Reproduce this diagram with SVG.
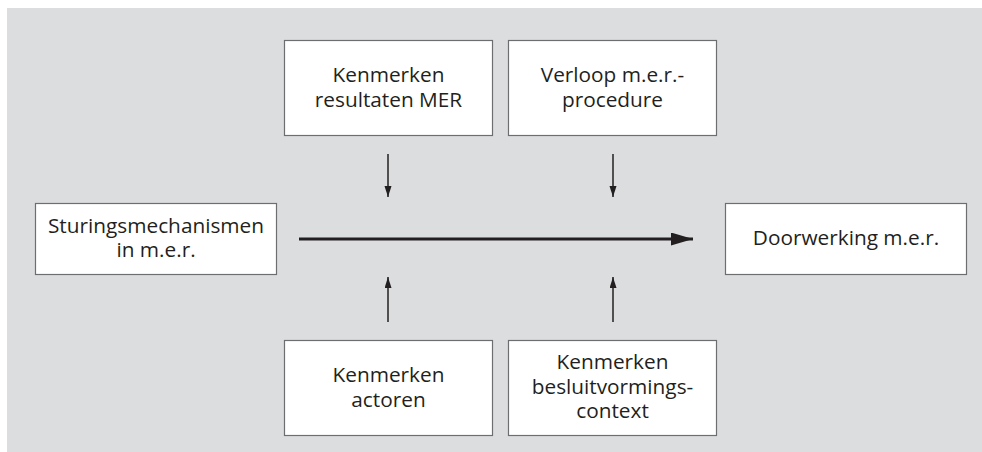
<svg xmlns="http://www.w3.org/2000/svg" width="982" height="452" viewBox="0 0 982 452">
<style>
.box{fill:#ffffff;stroke:#6d6e70;stroke-width:1.2}
.t{font-family:"Open Sans","Noto Sans",sans-serif;font-size:20.8px;fill:#231f20;text-anchor:middle}
.thin{stroke:#231f20;stroke-width:1.5;fill:none}
.thick{stroke:#231f20;stroke-width:3;fill:none}
</style>
<defs>
<marker id="ah" markerUnits="userSpaceOnUse" markerWidth="12" markerHeight="8" refX="11" refY="3.5" orient="auto">
<path d="M0,0 L11,3.5 L0,7 Z" fill="#231f20"/>
</marker>
<marker id="ahb" markerUnits="userSpaceOnUse" markerWidth="23" markerHeight="14" refX="22" refY="6.5" orient="auto">
<path d="M0,0 L22,6.5 L0,13 Z" fill="#231f20"/>
</marker>
</defs>
<rect x="7" y="8" width="975" height="444" fill="#dcdddf"/>
<g id="connectors">
<line class="thin" x1="388" y1="154" x2="388" y2="197" marker-end="url(#ah)"/>
<line class="thin" x1="613" y1="154" x2="613" y2="197" marker-end="url(#ah)"/>
<line class="thin" x1="388" y1="322" x2="388" y2="277" marker-end="url(#ah)"/>
<line class="thin" x1="613" y1="322" x2="613" y2="277" marker-end="url(#ah)"/>
<line class="thick" x1="299" y1="239" x2="693" y2="239" marker-end="url(#ahb)"/>
</g>
<g id="node-resultaten">
<rect class="box" x="284.5" y="40.5" width="208" height="95"/>
<text class="t" x="388.5" y="82">Kenmerken</text>
<text class="t" x="388.5" y="107">resultaten MER</text>
</g>
<g id="node-verloop">
<rect class="box" x="508.5" y="40.5" width="208" height="95"/>
<text class="t" x="612.5" y="82">Verloop m.e.r.-</text>
<text class="t" x="612.5" y="107">procedure</text>
</g>
<g id="node-sturing">
<rect class="box" x="35.5" y="203.5" width="241" height="71"/>
<text class="t" x="156" y="233">Sturingsmechanismen</text>
<text class="t" x="156" y="257">in m.e.r.</text>
</g>
<g id="node-doorwerking">
<rect class="box" x="725.5" y="203.5" width="241" height="71"/>
<text class="t" x="846" y="245">Doorwerking m.e.r.</text>
</g>
<g id="node-actoren">
<rect class="box" x="284.5" y="340.5" width="208" height="95"/>
<text class="t" x="388.5" y="382">Kenmerken</text>
<text class="t" x="388.5" y="407">actoren</text>
</g>
<g id="node-context">
<rect class="box" x="508.5" y="340.5" width="208" height="95"/>
<text class="t" x="612.5" y="369">Kenmerken</text>
<text class="t" x="612.5" y="394">besluitvormings-</text>
<text class="t" x="612.5" y="418">context</text>
</g>
</svg>
